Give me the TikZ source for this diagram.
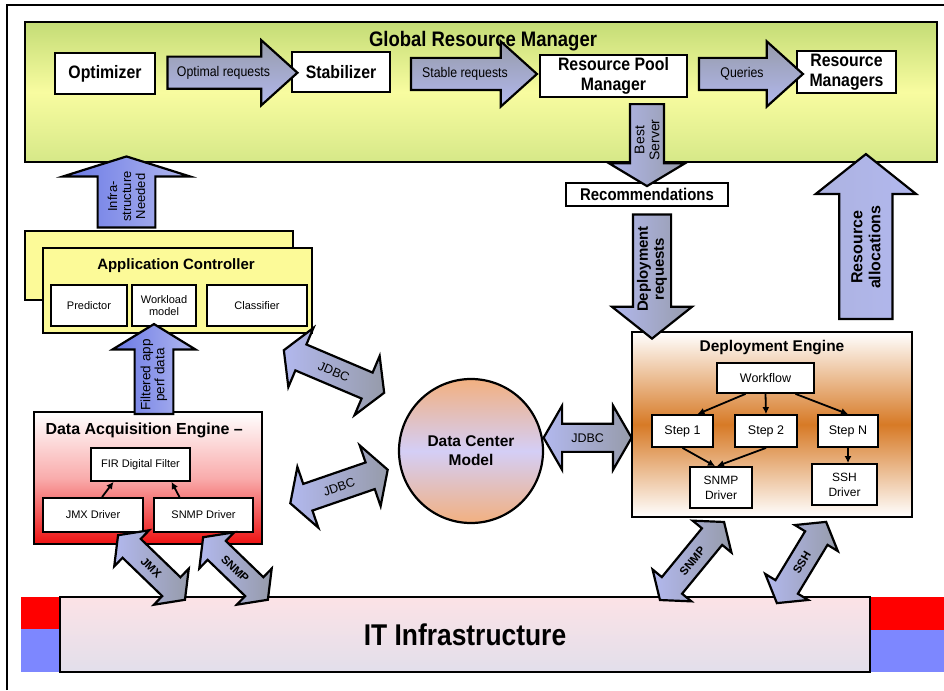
\documentclass[tikz,border=0pt]{standalone}
\usepackage{fontspec}
\setmainfont{Liberation Sans}
\newfontfamily\narrowfont{Liberation Sans}[FakeStretch=0.88]
\usepackage{xcolor}
\usepackage{tikz}
\usetikzlibrary{shapes.geometric, shapes.arrows, arrows.meta, positioning, calc}

\definecolor{grm_top}{RGB}{196,220,118}
\definecolor{grm_mid}{RGB}{248,252,160}
\definecolor{grm_bot}{RGB}{214,232,136}
\definecolor{ctrl_yellow}{RGB}{252,250,152}
\definecolor{arrow_gray}{RGB}{150,155,170}
\definecolor{arrow_lav}{RGB}{178,184,238}
\definecolor{arrow_blue}{RGB}{105,120,230}
\definecolor{engine_orange}{RGB}{215,122,38}
\definecolor{acq_red}{RGB}{238,18,18}
\definecolor{model_peach}{RGB}{242,176,128}
\definecolor{model_lav}{RGB}{212,206,246}
\definecolor{infra_pink}{RGB}{252,226,230}
\definecolor{infra_gray}{RGB}{226,223,235}
\definecolor{bar_red}{RGB}{255,0,0}
\definecolor{bar_blue}{RGB}{125,135,255}

\begin{document}
\begin{tikzpicture}[x=1pt, y=-1pt,
        % Define styles for the nodes
        base_node/.style={rectangle, draw=black, line width=1.8pt, align=center, inner sep=0pt},
        white_node/.style={base_node, fill=white},
        top_node/.style={white_node, font=\narrowfont\bfseries\fontsize{18}{20}\selectfont},
        panel_node/.style={base_node, line width=2.6pt},
        sub_node/.style={white_node, font=\fontsize{11}{12}\selectfont},
        step_node/.style={white_node, font=\fontsize{12.5}{14}\selectfont},
        title_text/.style={font=\bfseries\fontsize{15.5}{17}\selectfont},
        % Styles for block arrows
        block_arrow/.style={single arrow, draw=black, line width=2.2pt, align=center, inner xsep=0pt},
        flow_arrow/.style={block_arrow, top color=arrow_gray, bottom color=arrow_lav, font=\narrowfont\fontsize{14}{16}\selectfont,
            text height=10pt, text depth=3pt, inner ysep=8.5pt, single arrow head extend=16.5pt, single arrow tip angle=84},
        up_arrow/.style={block_arrow, rotate=90, left color=arrow_blue, right color=arrow_lav},
        down_arrow/.style={block_arrow, rotate=90, shape border rotate=180, left color=arrow_lav, right color=arrow_gray},
        link_arrow/.style={double arrow, draw=black, line width=2.2pt, left color=arrow_lav, right color=arrow_gray,
            inner xsep=0pt, text height=9pt, text depth=0pt},
        jdbc_link/.style={link_arrow, font=\fontsize{12.5}{14}\selectfont, inner ysep=8.5pt,
            double arrow head extend=18pt, double arrow tip angle=120},
        net_link/.style={link_arrow, font=\bfseries\fontsize{11.5}{13}\selectfont, inner ysep=7.5pt,
            double arrow head extend=12pt, double arrow tip angle=106},
        % Styles for arrows
        tip_arrow/.style={-{Latex[length=7pt, width=7pt]}, line width=1.8pt}
    ]

    \useasboundingbox (0,0) rectangle (944,690);
    \draw [line width=1.4pt] (7,690) -- (7,5) -- (944,5);

    % =========================================================================
    % GLOBAL RESOURCE MANAGER
    % =========================================================================
    \node (grm) [panel_node, top color=grm_top, bottom color=grm_bot, middle color=grm_mid,
        minimum width=912pt, minimum height=140pt] at (481,92) {};
    \node (grm_title) [font=\narrowfont\bfseries\fontsize{21}{23}\selectfont] at (483,41) {Global Resource Manager};

    \node (optimizer) [top_node, minimum width=100pt, minimum height=41pt] at (105,73.5) {Optimizer};
    \node (stabilizer) [top_node, minimum width=98pt, minimum height=40pt] at (341,72) {Stabilizer};
    \node (pool_manager) [top_node, minimum width=147pt, minimum height=42pt] at (613.5,76) {Resource Pool\\Manager};
    \node (res_managers) [top_node, minimum width=99pt, minimum height=42pt] at (846.5,72) {Resource\\Managers};

    \node (opt_requests) [flow_arrow, minimum height=130pt] at ($(optimizer.east)!0.5!(stabilizer.west)$) {Optimal requests};
    \node (stable_requests) [flow_arrow, minimum height=126pt] at ($(stabilizer.east)!0.5!(pool_manager.west)$) {Stable requests};
    \node (queries) [flow_arrow, minimum height=104pt] at ($(pool_manager.east)!0.5!(res_managers.west)$) {Queries};

    % =========================================================================
    % RECOMMENDATIONS & DEPLOYMENT ENGINE
    % =========================================================================
    \node (recommendations) [white_node, font=\narrowfont\bfseries\fontsize{17}{19}\selectfont,
        minimum width=162pt, minimum height=23pt] at (647,194.5) {Recommendations};

    \node (deploy_engine) [base_node, top color=white, bottom color=white, middle color=engine_orange,
        minimum width=280pt, minimum height=185pt] at (772,424.5) {};
    \node (de_title) [title_text] at (772,348) {Deployment Engine};

    \node (workflow) [step_node, minimum width=97pt, minimum height=30pt] at (765.5,378) {Workflow};
    \node (step_one) [step_node, minimum width=61pt, minimum height=32pt] at (682.5,431) {Step 1};
    \node (step_two) [step_node, minimum width=62pt, minimum height=32pt] at (766,431) {Step 2};
    \node (step_n) [step_node, minimum width=60pt, minimum height=32pt] at (848,431) {Step N};
    \node (snmp_drv) [step_node, font=\fontsize{12}{15}\selectfont, minimum width=62pt, minimum height=41pt] at (721,487.5) {SNMP\\Driver};
    \node (ssh_drv) [step_node, font=\fontsize{12}{15}\selectfont, minimum width=65pt, minimum height=41pt] at (844.5,484.5) {SSH\\Driver};

    \draw [tip_arrow] ([xshift=-20pt]workflow.south) -- ([xshift=15pt]step_one.north);
    \draw [tip_arrow] (workflow.south) -- (step_two.north);
    \draw [tip_arrow] ([xshift=30pt]workflow.south) -- (step_n.north);
    \draw [tip_arrow] (step_one.south) -- ([xshift=-6pt]snmp_drv.north);
    \draw [tip_arrow] (step_two.south) -- ([xshift=-4pt]snmp_drv.north);
    \draw [tip_arrow] (step_n.south) -- (step_n.south |- ssh_drv.north);

    % =========================================================================
    % APPLICATION CONTROLLER
    % =========================================================================
    \node (app_back) [panel_node, fill=ctrl_yellow, minimum width=268pt, minimum height=69pt] at (159,265.5) {};
    \node (app_ctrl) [panel_node, fill=ctrl_yellow, minimum width=269pt, minimum height=85pt] at (177.5,290.5) {};
    \node (app_title) [title_text, font=\bfseries\fontsize{15}{17}\selectfont] at (176,266) {Application Controller};

    \node (predictor) [sub_node, minimum width=76pt, minimum height=41pt] at (89,305.5) {Predictor};
    \node (workload) [sub_node, minimum width=64pt, minimum height=41pt] at (164,305.5) {Workload\\model};
    \node (classifier) [sub_node, minimum width=100pt, minimum height=41pt] at (257,305.5) {Classifier};

    % =========================================================================
    % DATA ACQUISITION ENGINE
    % =========================================================================
    \node (acq_engine) [panel_node, top color=white, bottom color=acq_red, middle color=acq_red!35,
        minimum width=228pt, minimum height=132pt] at (148,478) {};
    \node (acq_title) [title_text, font=\bfseries\fontsize{16}{18}\selectfont, anchor=west] at (42,430) {Data Acquisition Engine --};

    \node (fir_filter) [sub_node, minimum width=99pt, minimum height=33pt] at (140.5,464.5) {FIR Digital Filter};
    \node (jmx_driver) [sub_node, minimum width=100pt, minimum height=34pt] at (93,515) {JMX Driver};
    \node (snmp_driver) [sub_node, minimum width=99pt, minimum height=34pt] at (203.5,515) {SNMP Driver};

    \draw [tip_arrow] ([xshift=9pt]jmx_driver.north) -- ([xshift=-27pt]fir_filter.south);
    \draw [tip_arrow] ([xshift=-24pt]snmp_driver.north) -- ([xshift=31pt]fir_filter.south);

    % =========================================================================
    % DATA CENTER MODEL
    % =========================================================================
    \node (dc_model) [circle, draw=black, line width=2.2pt, minimum size=144pt, top color=model_peach,
        bottom color=model_peach, middle color=model_lav, align=center,
        font=\bfseries\fontsize{15.5}{19}\selectfont] at (471,451) {Data Center\\Model};

    % =========================================================================
    % IT INFRASTRUCTURE
    % =========================================================================
    \fill [bar_red] (21,597) rectangle (60,629);
    \fill [bar_blue] (21,629) rectangle (60,672);
    \fill [bar_red] (870,597) rectangle (944,630);
    \fill [bar_blue] (870,630) rectangle (944,672);
    \node (it_infra) [panel_node, top color=infra_pink, bottom color=infra_gray, minimum width=810pt, minimum height=75pt,
        font=\narrowfont\bfseries\fontsize{30}{32}\selectfont] at (465,634.5) {IT Infrastructure};

    % =========================================================================
    % BLOCK ARROWS BETWEEN THE COMPONENTS
    % =========================================================================
    \node (best_server) [down_arrow, font=\fontsize{14}{15}\selectfont, inner ysep=3.5pt, minimum height=82pt,
        single arrow head extend=21pt, single arrow tip angle=118]
        at ($(recommendations.north |- pool_manager.south)!0.5!(recommendations.north)$) {Best\\Server};
    \node (deploy_requests) [down_arrow, font=\bfseries\fontsize{15}{16}\selectfont, inner ysep=3pt, minimum height=124pt,
        single arrow head extend=21pt, single arrow tip angle=103]
        at ($(recommendations.south)!0.5!(recommendations.south |- deploy_engine.north)+(5,0)$) {Deployment\\requests};
    \node (res_alloc) [up_arrow, left color=arrow_lav!80!arrow_gray, right color=arrow_lav, font=\bfseries\fontsize{16}{18}\selectfont,
        inner ysep=11pt, minimum height=165pt, single arrow head extend=23.5pt, single arrow tip angle=103]
        at ($(deploy_engine.north east)!0.5!(deploy_engine.north east |- grm.south)+(-47,0)$) {Resource\\allocations};
    \node (infra_needed) [up_arrow, font=\fontsize{13}{14}\selectfont, inner ysep=9pt, minimum height=71pt,
        single arrow head extend=34.5pt, single arrow tip angle=145]
        at ($(app_back.north)!0.5!(app_back.north |- grm.south)+(-32.5,0)$) {Infra-\\structure\\Needed};
    \node (filtered_data) [up_arrow, font=\fontsize{13.5}{14}\selectfont, inner ysep=5pt, minimum height=90pt,
        single arrow head extend=22pt, single arrow tip angle=117]
        at (154,375) {Filtered app\\perf data};

    % Double arrows: database and network links
    \node (jdbc_right) [jdbc_link, minimum height=88pt] at ($(dc_model.east)!0.5!(deploy_engine.west)$) {JDBC};
    \node (jdbc_upper) [jdbc_link, minimum height=109pt, rotate=-23] at (334,371.5) {JDBC};
    \node (jdbc_lower) [jdbc_link, minimum height=103pt, rotate=19] at (339,486.5) {JDBC};

    \node (jmx_link) [net_link, minimum height=93pt, rotate=-44] at (151.5,567.5) {JMX};
    \node (snmp_link) [net_link, minimum height=90pt, rotate=-44] at (235.5,568.5) {SNMP};
    \node (snmp_deploy_link) [net_link, minimum height=101pt, rotate=50.6] at (692,561) {SNMP};
    \node (ssh_link) [net_link, minimum height=95pt, rotate=58.8] at (801.5,562.5) {SSH};

\end{tikzpicture}
\end{document}
